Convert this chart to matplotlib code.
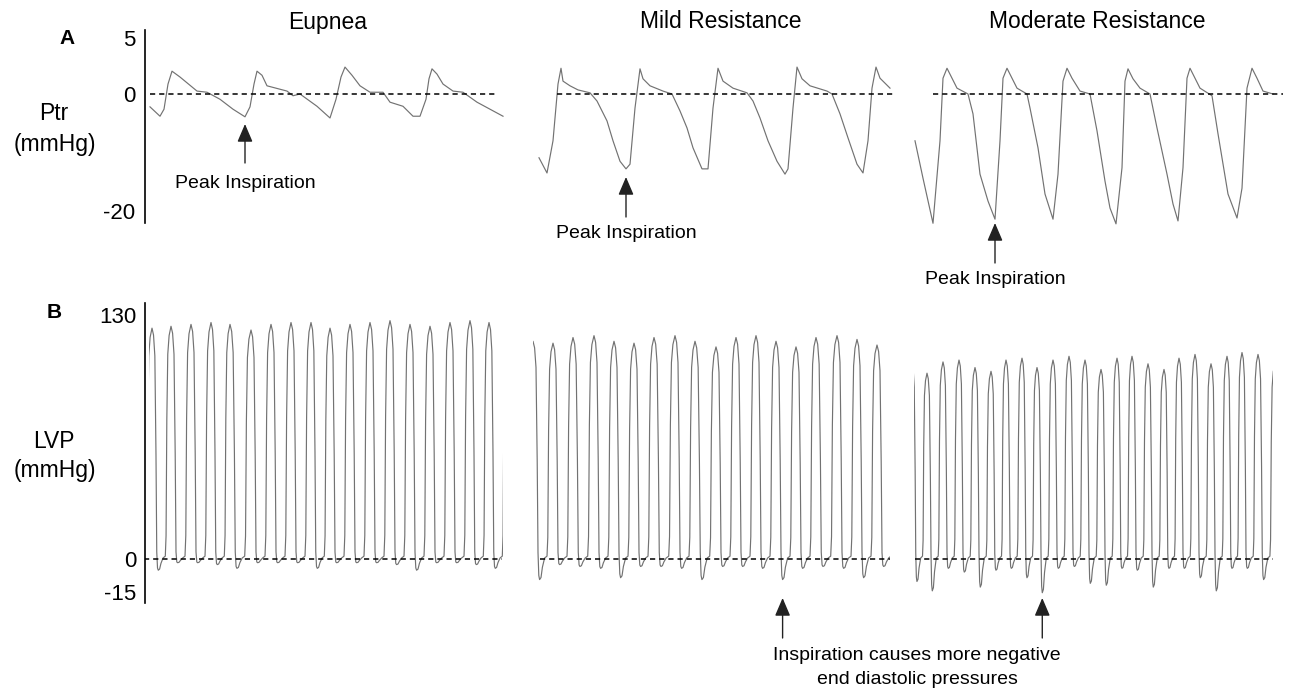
import numpy as np
import matplotlib
matplotlib.use("Agg")
import matplotlib.pyplot as plt
from matplotlib.patches import Rectangle

plt.rcParams["font.family"] = ["Liberation Sans", "DejaVu Sans"]

# ------------------------------------------------------------------ data
COLUMNS = ["Eupnea", "Mild Resistance", "Moderate Resistance"]

# tracheal pressure (Ptr) traces, vertices: time (s), mmHg
PTR_EUP_T = [0.00, 0.10, 0.14, 0.18, 0.22, 0.30, 0.47, 0.57, 0.70, 0.83, 0.95, 1.00,
             1.04, 1.07, 1.12, 1.17, 1.37, 1.43, 1.50, 1.67, 1.80, 1.86, 1.91, 1.95,
             2.02, 2.10, 2.20, 2.33, 2.40, 2.53, 2.63, 2.70, 2.76, 2.79, 2.82, 2.87,
             2.93, 3.03, 3.13, 3.27, 3.40, 3.53]
PTR_EUP_P = [-2.2, -3.8, -2.6, 1.7, 3.9, 2.9, 0.5, 0.3, -0.9, -2.6, -3.9, -2.2,
             1.7, 3.9, 3.2, 1.4, 0.5, -0.3, 0.0, -2.1, -4.1, -0.9, 2.9, 4.6,
             3.2, 1.4, 0.3, 0.3, -1.4, -2.1, -3.8, -3.8, -0.9, 2.6, 4.3, 3.4,
             1.7, 0.5, 0.3, -1.4, -2.6, -3.8]

PTR_MILD_T = [0.00, 0.08, 0.14, 0.19, 0.22, 0.24, 0.31, 0.39, 0.51, 0.58, 0.68, 0.74,
              0.81, 0.87, 0.91, 0.96, 1.01, 1.04, 1.11, 1.24, 1.33, 1.41, 1.48, 1.54,
              1.63, 1.69, 1.74, 1.79, 1.84, 1.94, 2.08, 2.14, 2.21, 2.29, 2.38, 2.46,
              2.49, 2.54, 2.58, 2.63, 2.71, 2.88, 2.93, 3.01, 3.09, 3.18, 3.24, 3.29,
              3.33, 3.37, 3.41, 3.51]
PTR_MILD_P = [-10.9, -13.5, -8.0, 1.7, 4.4, 2.2, 1.4, 0.7, 0.2, -1.2, -4.6, -8.0,
              -11.5, -12.8, -12.0, -2.4, 4.3, 2.6, 1.4, 0.5, 0.0, -2.9, -5.8, -9.2,
              -12.8, -12.8, -2.4, 4.4, 2.2, 1.0, 0.2, -1.2, -4.1, -8.0, -11.5, -13.7,
              -12.8, -2.4, 4.6, 2.6, 1.4, 0.5, 0.0, -3.4, -7.5, -12.0, -13.5, -8.0,
              1.0, 4.6, 2.7, 1.0]

PTR_MOD_T = [0.00, 0.08, 0.18, 0.25, 0.28, 0.32, 0.37, 0.42, 0.53, 0.58, 0.65, 0.73,
             0.80, 0.85, 0.88, 0.92, 0.97, 1.02, 1.12, 1.15, 1.23, 1.30, 1.38, 1.43,
             1.48, 1.52, 1.57, 1.65, 1.75, 1.82, 1.90, 1.95, 2.01, 2.07, 2.10, 2.13,
             2.18, 2.25, 2.35, 2.42, 2.52, 2.58, 2.63, 2.68, 2.72, 2.75, 2.80, 2.85,
             2.97, 3.03, 3.13, 3.22, 3.27, 3.32, 3.37, 3.42, 3.48, 3.58]
PTR_MOD_P = [-8.0, -14.4, -22.1, -8.0, 2.7, 4.4, 2.7, 1.0, 0.0, -3.4, -13.7, -18.3,
             -21.4, -8.0, 2.7, 4.4, 2.7, 1.0, 0.0, -2.4, -9.2, -17.1, -21.4, -13.7,
             2.2, 4.4, 2.7, 0.5, 0.0, -6.3, -14.9, -19.5, -22.2, -12.6, 2.2, 4.3,
             2.6, 1.0, 0.0, -5.8, -13.7, -18.8, -21.7, -12.6, 2.7, 4.4, 2.7, 1.0,
             -0.3, -6.8, -17.1, -21.2, -16.1, 1.0, 4.4, 2.7, 0.5, 0.0]

# vertex marked "Peak Inspiration" in each Ptr trace
PTR_PEAK_INSP = [10, 13, 12]

# left ventricular pressure (LVP): per beat peak time (s), systolic peak and
# the trough that follows it (mmHg)
LVP_EUP_T = [0.03, 0.22, 0.42, 0.62, 0.81, 1.02, 1.22, 1.42, 1.62, 1.81, 2.01, 2.21,
             2.41, 2.61, 2.81, 3.01, 3.21, 3.40, 3.59]
LVP_EUP_PEAK = [123, 124, 125, 126, 125, 122, 125, 126, 126, 123, 125, 126,
                127, 125, 124, 126, 127, 126, 125]
LVP_EUP_TROUGH = [-6, -2, -2, -3, -5, -2, -2, -2, -5, -2, -2, -2,
                  -3, -6, -2, -2, -3, -5, -2]

LVP_MILD_T = [0.00, 0.20, 0.40, 0.61, 0.81, 1.01, 1.21, 1.42, 1.62, 1.83, 2.03, 2.23,
              2.43, 2.63, 2.83, 3.04, 3.24, 3.44, 3.64]
LVP_MILD_PEAK = [116, 115, 118, 119, 116, 115, 118, 119, 116, 113, 118, 119,
                 116, 113, 118, 119, 117, 114, 117]
LVP_MILD_TROUGH = [-11, -3, -4, -5, -10, -4, -4, -5, -11, -4, -4, -5,
                   -11, -5, -4, -5, -10, -4, -4]

LVP_MOD_T = [-0.02, 0.13, 0.29, 0.45, 0.61, 0.77, 0.92, 1.08, 1.23, 1.39, 1.55, 1.71,
             1.87, 2.03, 2.18, 2.34, 2.50, 2.65, 2.81, 2.97, 3.13, 3.28, 3.44, 3.61]
LVP_MOD_PEAK = [104, 99, 105, 106, 102, 100, 106, 107, 102, 106, 108, 106,
                101, 107, 108, 104, 101, 107, 109, 104, 108, 110, 109, 104]
LVP_MOD_TROUGH = [-12, -17, -5, -7, -15, -6, -5, -10, -18, -5, -4, -13,
                  -14, -5, -6, -15, -5, -5, -10, -17, -5, -5, -11, -5]

LVP_END = [3.54, 3.57, 3.59]          # end of each recorded LVP segment (s)
LVP_MARKED_BEAT = {1: 12, 2: 8}      # column -> beat whose trough gets an arrow

# shape of one beat: phase (fraction of the cycle
# relative to the systolic peak), what the level refers to, and the factor
# ("abs" = mmHg, "peak" = fraction of systolic peak, "trough" = fraction of trough)
BEAT_PHASE = [-0.42, -0.30, -0.26, -0.22, -0.17, -0.10, 0.0, 0.08, 0.15, 0.21, 0.25,
              0.29, 0.33, 0.40, 0.47]
BEAT_REF = ["abs", "abs", "peak", "peak", "peak", "peak", "peak", "peak", "peak",
            "peak", "peak", "trough", "trough", "trough", "trough"]
BEAT_FRAC = [0.5, 1.5, 0.1, 0.6, 0.88, 0.96, 1.0, 0.97, 0.88, 0.45, 0.03,
             0.8, 1.0, 0.9, 0.4]
TROUGH_PHASE = 0.33

PTR_TICKS = ["5", "0", "-20"]
LVP_TICKS = ["130", "0", "-15"]


def lvp_trace(t_peak, peaks, troughs):
    t_out, p_out = [], []
    n = len(t_peak)
    for i in range(n):
        before = t_peak[i] - t_peak[i - 1] if i > 0 else t_peak[1] - t_peak[0]
        after = t_peak[i + 1] - t_peak[i] if i < n - 1 else before
        for ph, ref, fr in zip(BEAT_PHASE, BEAT_REF, BEAT_FRAC):
            dt = ph * (before if ph < 0 else after)
            if ref == "abs":
                v = fr
            elif ref == "peak":
                v = fr * peaks[i]
            else:
                v = fr * troughs[i]
            t_out.append(t_peak[i] + dt)
            p_out.append(v)
    return np.array(t_out), np.array(p_out)


# ------------------------------------------------------------------ layout
W, H = 1290, 691
fig = plt.figure(figsize=(W / 100, H / 100), dpi=100)

COL_X = [(145, 515), (528, 900), (905, 1285)]
ROW_A = (30, 240)
ROW_B = (303, 610)
A_X0 = [150, 539, 915]   # pixel where each trace starts
B_X0 = [149, 533, 914]
A_YLIM = (-24.96, 10.94)
B_YLIM = (-27.2, 136.4)
A_DASH = [(0.0, 3.47), (0.18, 3.54), (0.18, 3.68)]
B_DASH = [(-0.05, 3.53), (0.07, 3.57), (0.01, 3.59)]

TRACE_KW = dict(color="#727272", lw=0.85, solid_joinstyle="round")
DASH_KW = dict(color="black", lw=1.1, dashes=(3.4, 2.6))
ARROW_KW = dict(arrowstyle="-|>,head_length=1.1,head_width=0.47", mutation_scale=10,
                color="#222222", lw=1.0, shrinkA=0, shrinkB=0)


def fy(y):
    return 1 - y / H


def make_ax(col, row, x0px):
    L, R = COL_X[col]
    top, bot = row
    ax = fig.add_axes([L / W, fy(bot), (R - L) / W, (bot - top) / H])
    ax.set_xlim((L - x0px) / 100, (R - x0px) / 100)
    ax.patch.set_visible(False)
    for s in ["top", "right", "bottom", "left"]:
        ax.spines[s].set_visible(False)
    ax.set_xticks([])
    ax.set_yticks([])
    return ax


ptr_t = [PTR_EUP_T, PTR_MILD_T, PTR_MOD_T]
ptr_p = [PTR_EUP_P, PTR_MILD_P, PTR_MOD_P]
lvp = [(LVP_EUP_T, LVP_EUP_PEAK, LVP_EUP_TROUGH),
       (LVP_MILD_T, LVP_MILD_PEAK, LVP_MILD_TROUGH),
       (LVP_MOD_T, LVP_MOD_PEAK, LVP_MOD_TROUGH)]

A_ARROW = [(124, 163, 183), (177, 217, 233), (223, 263, 280)]  # tip, tail, text (px)

for c in range(3):
    # --- row A : Ptr
    ax = make_ax(c, ROW_A, A_X0[c])
    ax.set_ylim(*A_YLIM)
    ax.plot(ptr_t[c], ptr_p[c], **TRACE_KW)
    ax.plot(A_DASH[c], [0, 0], **DASH_KW)
    k = PTR_PEAK_INSP[c]
    tip, tail, ty = A_ARROW[c]
    ax.annotate("", xy=(ptr_t[c][k], H - tip), xycoords=("data", "figure pixels"),
                xytext=(ptr_t[c][k], H - tail), textcoords=("data", "figure pixels"),
                arrowprops=ARROW_KW)
    ax.annotate("Peak Inspiration", xy=(ptr_t[c][k], H - ty),
                xycoords=("data", "figure pixels"), ha="center", va="center", fontsize=14)
    if c == 0:
        ax.spines["left"].set_visible(True)
        ax.spines["left"].set_linewidth(1.2)
        ax.spines["left"].set_bounds((94 - 223) / 5.85, A_YLIM[1])
        ax.set_yticks([(94 - 38) / 5.85, 0, -20], PTR_TICKS)
        ax.tick_params(axis="y", length=0, pad=7, labelsize=16)

    # --- row B : LVP
    bx = make_ax(c, ROW_B, B_X0[c])
    bx.set_ylim(*B_YLIM)
    t, pk, tr = lvp[c]
    lt, lp = lvp_trace(t, pk, tr)
    ln, = bx.plot(lt, lp, **TRACE_KW)
    ln.set_clip_path(Rectangle((0, B_YLIM[0]), LVP_END[c], B_YLIM[1] - B_YLIM[0],
                               transform=bx.transData))
    bx.plot(B_DASH[c], [0, 0], **DASH_KW)
    if c in LVP_MARKED_BEAT:
        i = LVP_MARKED_BEAT[c]
        tt = t[i] + TROUGH_PHASE * (t[i + 1] - t[i])
        bx.annotate("", xy=(tt, H - 598), xycoords=("data", "figure pixels"),
                    xytext=(tt, H - 638), textcoords=("data", "figure pixels"),
                    arrowprops=ARROW_KW)
    if c == 0:
        bx.spines["left"].set_visible(True)
        bx.spines["left"].set_linewidth(1.2)
        bx.spines["left"].set_bounds((559 - 603) / 1.877, B_YLIM[1])
        bx.set_yticks([130, 0, -17.5], LVP_TICKS)
        bx.tick_params(axis="y", length=0, pad=6, labelsize=16)

# column titles
for x, name in zip([328, 721, 1097], COLUMNS):
    fig.text(x / W, fy(22), name, ha="center", va="center", fontsize=16.5)

fig.text(67 / W, fy(38), "A", ha="center", va="center", fontsize=15, fontweight="bold")
fig.text(54 / W, fy(313), "B", ha="center", va="center", fontsize=15, fontweight="bold")
fig.text(54 / W, fy(114), "Ptr", ha="center", va="center", fontsize=16.5)
fig.text(55 / W, fy(145), "(mmHg)", ha="center", va="center", fontsize=16.5)
fig.text(54 / W, fy(442), "LVP", ha="center", va="center", fontsize=16.5)
fig.text(55 / W, fy(470), "(mmHg)", ha="center", va="center", fontsize=16.5)
fig.text(917 / W, fy(655), "Inspiration causes more negative", ha="center", va="center",
         fontsize=14)
fig.text(917 / W, fy(680), "end diastolic pressures", ha="center", va="center",
         fontsize=14)

fig.savefig("out.png", dpi=100)
